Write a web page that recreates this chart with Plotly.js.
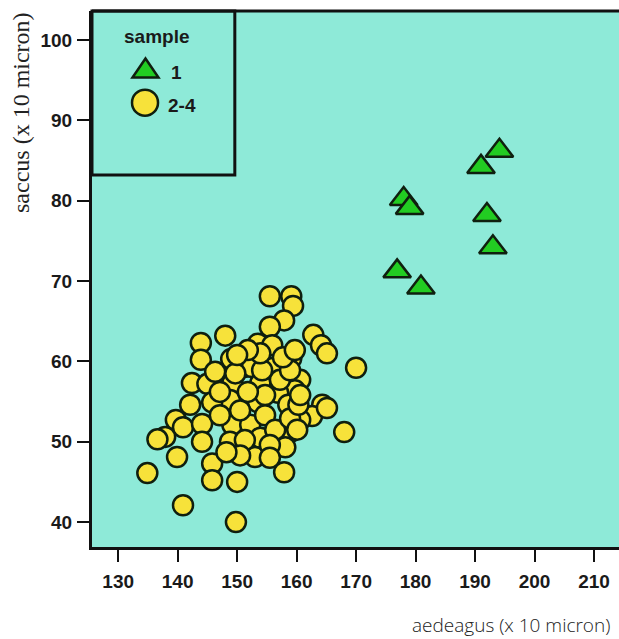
<!DOCTYPE html>
<html>
<head>
<meta charset="utf-8">
<script src="https://cdn.plot.ly/plotly-3.0.1.min.js"></script>
<style>html,body{margin:0;padding:0;background:#fff;}#chart{width:619px;height:639px;}</style>
</head>
<body>
<div id="chart"></div>
<script>
// sample 1 (triangles)
const sample1Aedeagus = [194.1, 191.0, 178.0, 179.0, 192.0, 193.0, 176.9, 180.9];
const sample1Saccus   = [86.2, 84.2, 80.2, 79.1, 78.2, 74.2, 71.2, 69.2];

// samples 2-4 (circles)
const sample24Aedeagus = [
  155.5, 159.1, 159.4, 157.9, 155.5, 148.0, 162.8, 164.1, 165.1, 170.0,
  143.9, 143.9, 149.0, 151.2, 152.5, 156.1, 159.1, 153.5, 155.9, 142.4,
  145.0, 149.2, 153.9, 160.6, 159.7, 156.9, 148.8, 145.8, 153.5, 158.6,
  164.3, 142.1, 139.7, 140.9, 144.1, 149.2, 152.2, 137.9, 144.1, 148.8,
  153.9, 139.9, 145.8, 153.0, 134.9, 145.8, 150.0, 140.9, 149.8, 168.0,
  162.6, 165.1, 160.6, 158.9, 158.1, 157.9, 150.5, 154.7, 157.2, 154.7,
  151.8, 147.1, 156.4, 151.3, 158.9, 154.2, 146.3, 158.9, 160.3, 149.7,
  147.1, 155.5, 150.5, 148.2, 157.7, 153.9, 151.8, 160.6, 160.1, 136.6,
  150.0, 159.7, 155.5
];
const sample24Saccus = [
  68.1, 68.1, 66.9, 65.1, 64.3, 63.2, 63.3, 62.0, 61.0, 59.2,
  62.3, 60.2, 60.3, 59.3, 59.3, 59.2, 60.4, 62.2, 62.0, 57.3,
  57.2, 57.3, 57.3, 57.7, 56.4, 56.1, 55.2, 54.9, 54.9, 54.6,
  54.6, 54.6, 52.7, 51.8, 52.2, 52.1, 52.1, 50.6, 50.0, 50.0,
  50.5, 48.1, 47.3, 48.1, 46.1, 45.2, 45.0, 42.1, 40.0, 51.2,
  53.2, 54.2, 52.7, 51.2, 49.3, 46.2, 53.9, 53.3, 57.7, 55.8,
  56.2, 53.3, 51.5, 50.2, 58.9, 58.9, 58.7, 52.9, 54.6, 58.5,
  56.2, 49.6, 48.3, 48.7, 60.5, 61.0, 61.4, 55.8, 51.5, 50.3,
  60.8, 61.4, 48.0
];

const xTicks = [130, 140, 150, 160, 170, 180, 190, 200, 210];
const yTicks = [40, 50, 60, 70, 80, 90, 100];
const legendTitle = 'sample';
const seriesNames = ['1', '2-4'];

const outline = '#0f1f0f';
const green = '#22cc22';
const yellow = '#f7e23a';
const sansBold = {family: 'Liberation Sans, Arial, sans-serif', size: 19, color: '#1a1a1a', weight: 'bold'};
const legendFont = {family: 'Liberation Sans, Arial, sans-serif', size: 19, color: '#1a1a1a', weight: 'bold'};

const traces = [
  {
    type: 'scatter', mode: 'markers', name: seriesNames[0],
    x: sample1Aedeagus, y: sample1Saccus,
    marker: {symbol: 'triangle-up', size: 24, color: green, line: {color: outline, width: 2.5}}
  },
  {
    type: 'scatter', mode: 'markers', name: seriesNames[1],
    x: sample24Aedeagus, y: sample24Saccus,
    marker: {symbol: 'circle', size: 20, color: yellow, line: {color: outline, width: 2.5}}
  }
];

const layout = {
  width: 619, height: 639,
  margin: {l: 92, r: 0, t: 11, b: 92},
  paper_bgcolor: '#ffffff',
  plot_bgcolor: '#8eead8',
  showlegend: false,
  xaxis: {
    range: [125.6, 214.2], tickvals: xTicks, ticktext: xTicks.map(String),
    ticks: 'outside', ticklen: 12, tickwidth: 2, tickcolor: '#111',
    showline: true, linewidth: 3, linecolor: '#111', mirror: false,
    showgrid: false, zeroline: false, tickfont: sansBold, ticklabelstandoff: 3
  },
  yaxis: {
    range: [36.9, 103.6], tickvals: yTicks, ticktext: yTicks.map(String),
    ticks: 'outside', ticklen: 12, tickwidth: 2, tickcolor: '#111',
    showline: true, linewidth: 3, linecolor: '#111', mirror: false,
    showgrid: false, zeroline: false, tickfont: sansBold, ticklabelstandoff: 1
  },
  shapes: [
    {type: 'line', xref: 'paper', yref: 'paper', x0: 0, x1: 1, y0: 1, y1: 1,
     line: {color: '#111', width: 3}},
    // legend box
    {type: 'rect', xref: 'paper', yref: 'paper', x0: 0, x1: 0.271, y0: 0.694, y1: 1,
     line: {color: '#111', width: 3}, fillcolor: 'rgba(0,0,0,0)'},
    // legend symbols
    {type: 'path', xref: 'paper', yref: 'paper', xsizemode: 'pixel', ysizemode: 'pixel',
     xanchor: 0.1015, yanchor: 0.888, path: 'M-13,-6.5 L13,-6.5 L0,12.5 Z',
     fillcolor: green, line: {color: outline, width: 2.5}},
    {type: 'circle', xref: 'paper', yref: 'paper', xsizemode: 'pixel', ysizemode: 'pixel',
     xanchor: 0.1006, yanchor: 0.829, x0: -13, x1: 13, y0: -13, y1: 13,
     fillcolor: yellow, line: {color: outline, width: 2.5}}
  ],
  annotations: [
    {text: legendTitle, xref: 'paper', yref: 'paper', x: 0.1233, y: 0.9515, xanchor: 'center', yanchor: 'middle',
     showarrow: false, font: legendFont},
    {text: seriesNames[0], xref: 'paper', yref: 'paper', x: 0.1461, y: 0.886, xanchor: 'left', yanchor: 'middle',
     showarrow: false, font: legendFont},
    {text: seriesNames[1], xref: 'paper', yref: 'paper', x: 0.1404, y: 0.8237, xanchor: 'left', yanchor: 'middle',
     showarrow: false, font: legendFont},
    {text: 'aedeagus (x 10 micron)', xref: 'paper', yref: 'paper', x: 1, y: 0, xanchor: 'right', yanchor: 'middle',
     yshift: -78, xshift: -7, showarrow: false,
     font: {family: 'Open Sans, Noto Sans, sans-serif', size: 19, color: '#222', weight: 300}},
    {text: 'saccus (x 10 micron)', xref: 'paper', yref: 'paper', x: 0, y: 1, xanchor: 'center', yanchor: 'middle',
     xshift: -71, yshift: -102, textangle: -90, showarrow: false,
     font: {family: 'Liberation Serif, Times New Roman, serif', size: 24, color: '#222'}}
  ]
};

Plotly.newPlot('chart', traces, layout, {displayModeBar: false, staticPlot: true});
</script>
</body>
</html>
